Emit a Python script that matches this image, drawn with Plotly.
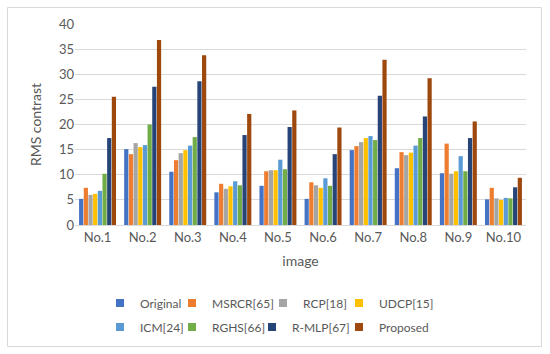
import plotly.graph_objects as go

categories = ["No.1", "No.2", "No.3", "No.4", "No.5", "No.6", "No.7", "No.8", "No.9", "No.10"]
original = [5.2, 15.1, 10.6, 6.5, 7.8, 5.2, 14.9, 11.3, 10.3, 5.1]
msrcr = [7.4, 14.1, 12.9, 8.2, 10.7, 8.5, 15.7, 14.5, 16.2, 7.4]
rcp = [6.0, 16.3, 14.3, 7.2, 10.9, 7.9, 16.5, 13.9, 10.2, 5.3]
udcp = [6.2, 15.5, 14.9, 7.7, 10.9, 7.4, 17.3, 14.4, 10.7, 5.0]
icm = [6.8, 15.9, 15.8, 8.7, 13.0, 9.3, 17.7, 15.8, 13.7, 5.4]
rghs = [10.2, 20.0, 17.5, 7.9, 11.1, 7.8, 16.9, 17.3, 10.7, 5.3]
rmlp = [17.3, 27.5, 28.6, 17.9, 19.5, 14.1, 25.7, 21.6, 17.3, 7.5]
proposed = [25.5, 36.8, 33.8, 22.1, 22.8, 19.4, 32.9, 29.2, 20.6, 9.4]

series_names = ["Original", "MSRCR[65]", "RCP[18]", "UDCP[15]", "ICM[24]", "RGHS[66]", "R-MLP[67]", "Proposed"]
series_values = [original, msrcr, rcp, udcp, icm, rghs, rmlp, proposed]
colors = ["#4472C4", "#ED7D31", "#A5A5A5", "#FFC000", "#5B9BD5", "#70AD47", "#264478", "#9E480E"]

font_family = "Lato, 'Open Sans', sans-serif"
grey = "#595959"

W, H = 550, 354
L, R, T, B = 75, 24, 24, 129

# legend box left edges (px) and row centres (px)
legend_x = [100, 172, 263, 339, 100, 172, 252, 339]
legend_y = [303, 303, 303, 303, 327, 327, 327, 327]

fig = go.Figure()
for name, vals, col in zip(series_names, series_values, colors):
    fig.add_trace(go.Bar(
        x=categories, y=vals, name=name, marker=dict(color=col, line=dict(width=0)),
        showlegend=False,
    ))

layout_legends = {}
for i, (name, col) in enumerate(zip(series_names, colors)):
    key = f"legend{i + 2}"
    fig.add_trace(go.Scatter(
        x=[None], y=[None], mode="markers", name=name,
        marker=dict(symbol="square", size=8, color=col),
        legend=key, showlegend=True, hoverinfo="skip",
    ))
    layout_legends[key] = dict(
        xref="container", yref="container",
        x=legend_x[i] / W, y=1 - legend_y[i] / H,
        xanchor="left", yanchor="middle", orientation="h",
        font=dict(family=font_family, size=12, color=grey),
        itemwidth=30, bgcolor="rgba(0,0,0,0)",
    )

fig.update_layout(
    width=W, height=H,
    margin=dict(l=L, r=R, t=T, b=B, autoexpand=False),
    paper_bgcolor="white", plot_bgcolor="white",
    barmode="group", bargap=0.17, bargroupgap=0.1,
    font=dict(family=font_family, color=grey),
    xaxis=dict(
        showgrid=False, showline=True, linecolor="#D9D9D9", linewidth=1,
        ticks="", tickfont=dict(family=font_family, size=13, color=grey),
        title=dict(text="image", font=dict(family=font_family, size=14, color=grey), standoff=12),
    ),
    yaxis=dict(
        range=[0, 40], dtick=5, showgrid=True, gridcolor="#D9D9D9", gridwidth=1,
        zeroline=False, showline=False, ticks="",
        tickfont=dict(family=font_family, size=13, color=grey),
        title=dict(text="RMS contrast", font=dict(family=font_family, size=14, color=grey), standoff=14),
    ),
    shapes=[dict(
        type="rect", xref="paper", yref="paper",
        x0=(7.5 - L) / (W - L - R), x1=(541.5 - L) / (W - L - R),
        y0=(H - B - 346.5) / (H - T - B), y1=(H - B - 7.5) / (H - T - B),
        line=dict(color="#D9D9D9", width=1), fillcolor="rgba(0,0,0,0)", layer="below",
    )],
    **layout_legends,
)

fig.write_html("out.html", config={"displayModeBar": False},
               post_script="document.body.style.margin='0';")
